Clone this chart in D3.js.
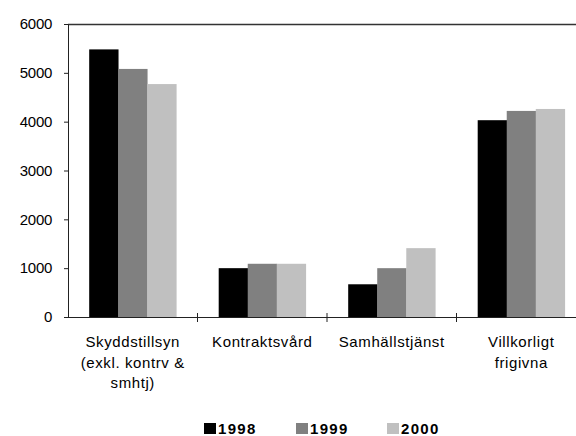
<!DOCTYPE html>
<html>
<head>
<meta charset="utf-8">
<script src="https://cdn.jsdelivr.net/npm/d3@7"></script>
<style>
  body { margin: 0; background: #fff; }
  svg { display: block; font-family: "Liberation Sans", Arial, sans-serif; }
</style>
</head>
<body>
<svg width="576" height="436"></svg>
<script>
// data
const categories = [
  ['Skyddstillsyn', '(exkl. kontrv &', 'smhtj)'],
  ['Kontraktsvård'],
  ['Samhällstjänst'],
  ['Villkorligt', 'frigivna']
];
const years = ['1998', '1999', '2000'];
const values1998 = [5480, 1000, 670, 4030];
const values1999 = [5080, 1090, 1000, 4220];
const values2000 = [4770, 1090, 1410, 4260];
const yTicks = [0, 1000, 2000, 3000, 4000, 5000, 6000];
const colours = ['#000000', '#808080', '#c0c0c0'];

const series = [values1998, values1999, values2000];

let svg = d3.select('svg');
const plotLeft = 68, plotRight = 586, plotTop = 24, plotBottom = 317;

let x = d3.scaleBand().domain(d3.range(categories.length))
  .range([plotLeft, plotRight]).paddingInner(0).paddingOuter(0);
let xInner = d3.scaleBand().domain(years)
  .range([0, x.bandwidth()]).paddingInner(0).paddingOuter(0.73);
let y = d3.scaleLinear().domain([0, 6000]).range([plotBottom, plotTop]);

// bars
categories.forEach(function(c, i) {
  let g = svg.append('g').attr('transform', 'translate(' + x(i) + ',0)');
  g.selectAll('rect')
    .data(years)
    .enter()
    .append('rect')
      .attr('x', function(d) { return xInner(d); })
      .attr('width', xInner.bandwidth() + 0.3)
      .attr('y', function(d, j) { return y(series[j][i]); })
      .attr('height', function(d, j) { return plotBottom - y(series[j][i]); })
      .attr('fill', function(d, j) { return colours[j]; });
});

// frame top line
svg.append('line')
  .attr('x1', plotLeft).attr('x2', 576)
  .attr('y1', plotTop + 0.5).attr('y2', plotTop + 0.5)
  .attr('stroke', '#333').attr('stroke-width', 1.5);

// y axis
let yAxis = d3.axisLeft(y).tickValues(yTicks).tickSize(4).tickPadding(12)
  .tickFormat(d3.format('d'));
let ya = svg.append('g').attr('transform', 'translate(' + plotLeft + ',0)').call(yAxis);
ya.select('.domain').attr('stroke', '#222');
ya.selectAll('.tick line').attr('stroke', '#222');
ya.selectAll('text')
  .attr('font-size', 15).attr('fill', '#000')
  .attr('font-family', '"Liberation Sans", Arial, sans-serif')
  .style('letter-spacing', '-0.3px');

// x axis
svg.append('line')
  .attr('x1', plotLeft - 4).attr('x2', 576)
  .attr('y1', plotBottom + 0.5).attr('y2', plotBottom + 0.5)
  .attr('stroke', '#222').attr('stroke-width', 1.2);

svg.selectAll('.xtick')
  .data(d3.range(1, categories.length))
  .enter()
  .append('line')
    .attr('x1', function(d) { return x(d); })
    .attr('x2', function(d) { return x(d); })
    .attr('y1', plotBottom - 4).attr('y2', plotBottom + 5)
    .attr('stroke', '#222');

// category labels
categories.forEach(function(lines, i) {
  let t = svg.append('text')
    .attr('x', x(i) + x.bandwidth() / 2)
    .attr('text-anchor', 'middle')
    .attr('font-size', 15)
    .style('letter-spacing', '0.6px');
  lines.forEach(function(l, k) {
    t.append('tspan')
      .attr('x', x(i) + x.bandwidth() / 2)
      .attr('y', 347 + k * 20.5)
      .text(l);
  });
});

// legend
const legendX = [204, 296, 387];
years.forEach(function(yr, j) {
  svg.append('rect')
    .attr('x', legendX[j]).attr('y', 423)
    .attr('width', 12).attr('height', 11)
    .attr('fill', colours[j]);
  svg.append('text')
    .attr('x', legendX[j] + 14).attr('y', 433.5)
    .attr('font-size', 15).attr('font-weight', 'bold')
    .style('letter-spacing', '1.3px')
    .text(yr);
});
</script>
</body>
</html>
